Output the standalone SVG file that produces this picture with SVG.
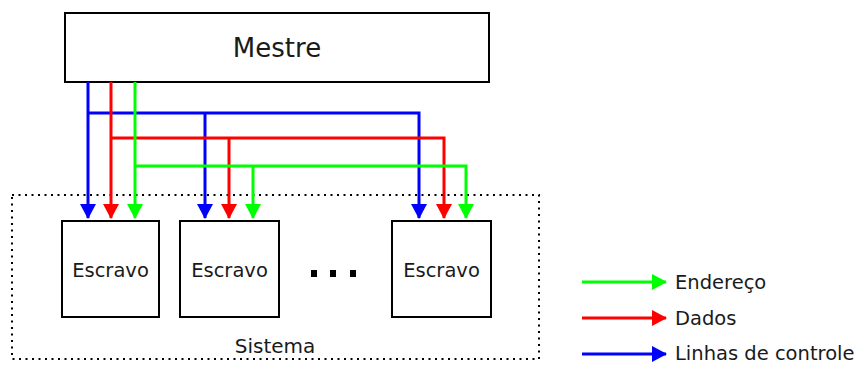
<svg xmlns="http://www.w3.org/2000/svg" width="860" height="365" viewBox="0 0 860 365">
  <style>
    .box { fill: #fff; stroke: #000; stroke-width: 2; }
    .txt { font-family: "DejaVu Sans", Verdana, sans-serif; fill: #1a1a1a; }
    .sys { fill: none; stroke: #000; stroke-width: 2; stroke-dasharray: 2 4.5; }
    .w { fill: none; stroke-width: 3; }
    .b { stroke: #0000ff; }
    .r { stroke: #ff0000; }
    .g { stroke: #00ff00; }
  </style>
  <defs>
    <marker id="ab" viewBox="0 0 15 16" refX="14" refY="8" markerWidth="15" markerHeight="16" markerUnits="userSpaceOnUse" orient="auto">
      <path d="M0,0 L15,8 L0,16 Z" fill="#0000ff"/>
    </marker>
    <marker id="ar" viewBox="0 0 15 16" refX="14" refY="8" markerWidth="15" markerHeight="16" markerUnits="userSpaceOnUse" orient="auto">
      <path d="M0,0 L15,8 L0,16 Z" fill="#ff0000"/>
    </marker>
    <marker id="ag" viewBox="0 0 15 16" refX="14" refY="8" markerWidth="15" markerHeight="16" markerUnits="userSpaceOnUse" orient="auto">
      <path d="M0,0 L15,8 L0,16 Z" fill="#00ff00"/>
    </marker>
  </defs>

  <!-- system boundary -->
  <g id="sistema">
    <rect class="sys" x="12" y="195" width="527" height="164"/>
    <text class="txt" x="275" y="353" font-size="20" text-anchor="middle">Sistema</text>
  </g>

  <g id="mestre">
    <rect class="box" x="65" y="13" width="424" height="69"/>
    <text class="txt" x="277" y="57" font-size="26" text-anchor="middle">Mestre</text>
  </g>

  <g id="escravo1">
    <rect class="box" x="62" y="221" width="97" height="96"/>
    <text class="txt" x="110.5" y="277" font-size="19.5" text-anchor="middle">Escravo</text>
  </g>
  <g id="escravo2">
    <rect class="box" x="180" y="221" width="99" height="96"/>
    <text class="txt" x="229.5" y="277" font-size="19.5" text-anchor="middle">Escravo</text>
  </g>
  <g id="escravo3">
    <rect class="box" x="392" y="221" width="99" height="96"/>
    <text class="txt" x="441.5" y="277" font-size="19.5" text-anchor="middle">Escravo</text>
  </g>

  <!-- ellipsis between slaves -->
  <g id="reticencias" fill="#000">
    <rect x="311" y="270" width="6" height="7"/>
    <rect x="330" y="270" width="6" height="7"/>
    <rect x="350" y="270" width="6" height="7"/>
  </g>

  <!-- bus lines -->
  <g id="conexoes">
    <!-- control lines -->
    <path class="w b" d="M88,82 V218" marker-end="url(#ab)"/>
    <path class="w b" d="M88,113 H419 V218" marker-end="url(#ab)"/>
    <path class="w b" d="M205,113 V218" marker-end="url(#ab)"/>
    <!-- data -->
    <path class="w r" d="M111,82 V218" marker-end="url(#ar)"/>
    <path class="w r" d="M111,138 H444 V218" marker-end="url(#ar)"/>
    <path class="w r" d="M229,138 V218" marker-end="url(#ar)"/>
    <!-- address -->
    <path class="w g" d="M135,82 V218" marker-end="url(#ag)"/>
    <path class="w g" d="M135,166 H466 V218" marker-end="url(#ag)"/>
    <path class="w g" d="M253,166 V218" marker-end="url(#ag)"/>
  </g>

  <!-- legend -->
  <g id="legenda">
    <path class="w g" d="M582,282 H666" marker-end="url(#ag)"/>
    <text class="txt" x="675" y="289" font-size="19.5">Endereço</text>
    <path class="w r" d="M582,318 H666" marker-end="url(#ar)"/>
    <text class="txt" x="675" y="325" font-size="19.5">Dados</text>
    <path class="w b" d="M582,354 H666" marker-end="url(#ab)"/>
    <text class="txt" x="675" y="360" font-size="19.5">Linhas de controle</text>
  </g>
</svg>
